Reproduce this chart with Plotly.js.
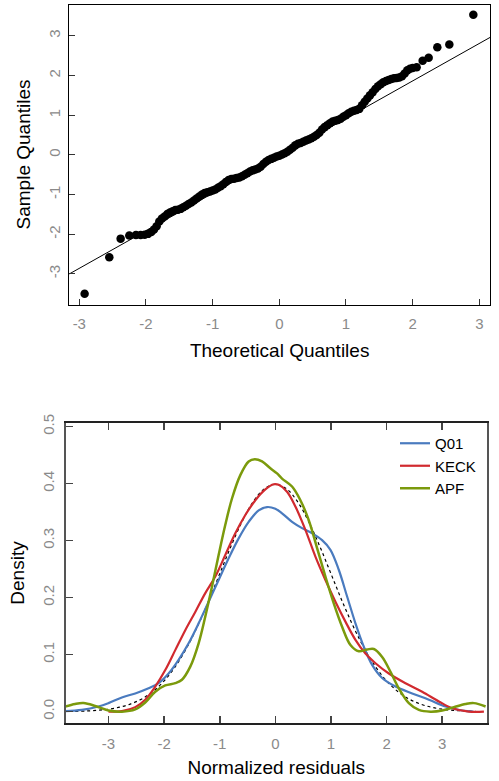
<!DOCTYPE html>
<html><head><meta charset="utf-8">
<script src="https://cdn.plot.ly/plotly-3.0.1.min.js"></script>
<style>html,body{margin:0;padding:0;background:#fff;}#chart{width:499px;height:781px;}</style>
</head><body><div id="chart"></div>
<script>
// ---- Q-Q plot data ----
const qqTheoretical = [-2.92,-2.55,-2.38,-2.25,-2.15,-2.08,-2.02,-1.97,-1.92,-1.88,-1.84,-1.80,-1.76,-1.72,-1.68,-1.64,-1.60,-1.56,-1.52,-1.48,-1.44,-1.40,-1.36,-1.32,-1.28,-1.24,-1.20,-1.16,-1.12,-1.08,-1.04,-1.00,-0.96,-0.92,-0.88,-0.84,-0.80,-0.76,-0.72,-0.68,-0.64,-0.60,-0.56,-0.52,-0.48,-0.44,-0.40,-0.36,-0.32,-0.28,-0.24,-0.20,-0.16,-0.12,-0.08,-0.04,0.00,0.04,0.08,0.12,0.16,0.20,0.24,0.28,0.32,0.36,0.40,0.44,0.48,0.52,0.56,0.60,0.64,0.68,0.72,0.76,0.80,0.84,0.88,0.92,0.96,1.00,1.04,1.08,1.12,1.16,1.20,1.24,1.28,1.32,1.36,1.40,1.44,1.48,1.52,1.56,1.60,1.64,1.68,1.72,1.76,1.80,1.84,1.88,1.92,1.96,2.00,2.06,2.15,2.24,2.37,2.55,2.91];
const qqSample = [-3.50,-2.58,-2.11,-2.03,-2.02,-2.02,-2.01,-1.99,-1.94,-1.88,-1.80,-1.68,-1.60,-1.55,-1.49,-1.45,-1.42,-1.39,-1.38,-1.36,-1.32,-1.28,-1.24,-1.20,-1.15,-1.10,-1.05,-1.00,-0.96,-0.94,-0.92,-0.90,-0.87,-0.83,-0.79,-0.74,-0.68,-0.63,-0.61,-0.60,-0.58,-0.57,-0.54,-0.50,-0.46,-0.42,-0.39,-0.37,-0.34,-0.30,-0.23,-0.17,-0.13,-0.10,-0.07,-0.04,-0.02,0.01,0.04,0.08,0.13,0.18,0.24,0.28,0.30,0.33,0.36,0.39,0.42,0.46,0.50,0.56,0.64,0.70,0.75,0.80,0.84,0.86,0.88,0.91,0.96,1.00,1.05,1.09,1.11,1.13,1.16,1.25,1.34,1.42,1.50,1.58,1.66,1.73,1.78,1.83,1.86,1.89,1.91,1.93,1.94,1.95,1.98,2.05,2.13,2.17,2.19,2.21,2.37,2.45,2.71,2.78,3.53];
const qqLineX = [-3.15, 3.16];
const qqLineY = [-3.00, 2.96];
const qqTicks = [-3,-2,-1,0,1,2,3];
const qqTickText = ['-3','-2','-1','0','1','2','3'];

// ---- Density data ----
const q01X = [-3.78,-3.48,-3.18,-3.00,-2.76,-2.52,-2.28,-2.10,-1.92,-1.74,-1.56,-1.38,-1.20,-1.02,-0.84,-0.66,-0.48,-0.30,-0.15,0.00,0.12,0.30,0.48,0.66,0.84,0.99,1.14,1.29,1.44,1.59,1.74,1.92,2.16,2.46,2.76,3.06,3.36,3.56];
const q01Y = [0.001,0.003,0.009,0.015,0.025,0.032,0.041,0.050,0.067,0.091,0.120,0.155,0.193,0.231,0.269,0.304,0.333,0.353,0.359,0.356,0.348,0.333,0.322,0.313,0.301,0.284,0.249,0.202,0.155,0.114,0.082,0.059,0.044,0.032,0.021,0.009,0.002,0.000];
const keckX = [-3.00,-2.76,-2.52,-2.34,-2.16,-1.98,-1.80,-1.62,-1.44,-1.26,-1.08,-0.90,-0.72,-0.54,-0.36,-0.18,-0.03,0.06,0.21,0.36,0.54,0.72,0.90,1.08,1.26,1.44,1.62,1.80,2.04,2.34,2.64,2.94,3.18,3.48,3.75];
const keckY = [0.000,0.001,0.008,0.021,0.044,0.073,0.108,0.143,0.175,0.208,0.237,0.275,0.313,0.345,0.371,0.390,0.399,0.398,0.386,0.360,0.319,0.272,0.231,0.193,0.158,0.126,0.102,0.085,0.067,0.050,0.035,0.018,0.006,0.000,0.000];
const apfX = [-3.78,-3.60,-3.45,-3.24,-3.00,-2.76,-2.52,-2.34,-2.16,-1.98,-1.80,-1.68,-1.53,-1.38,-1.26,-1.14,-1.02,-0.90,-0.78,-0.63,-0.48,-0.37,-0.24,-0.09,0.03,0.12,0.30,0.45,0.60,0.75,0.90,1.05,1.20,1.35,1.50,1.65,1.77,1.92,2.07,2.22,2.40,2.58,2.79,3.00,3.21,3.42,3.57,3.78];
const apfY = [0.009,0.0135,0.015,0.010,0.002,0.000,0.004,0.016,0.035,0.046,0.050,0.056,0.079,0.120,0.167,0.219,0.275,0.328,0.374,0.415,0.439,0.443,0.439,0.427,0.418,0.409,0.395,0.371,0.336,0.287,0.237,0.190,0.149,0.117,0.106,0.109,0.110,0.096,0.070,0.041,0.015,0.003,0.000,0.002,0.008,0.0135,0.015,0.009];
const normX = [-3.6,-3.4,-3.2,-3.0,-2.8,-2.6,-2.4,-2.2,-2.0,-1.8,-1.6,-1.4,-1.2,-1.0,-0.8,-0.6,-0.4,-0.2,0.0,0.2,0.4,0.6,0.8,1.0,1.2,1.4,1.6,1.8,2.0,2.2,2.4,2.6,2.8,3.0,3.2,3.4,3.6];
const normY = [0.0006,0.0012,0.0024,0.0044,0.0079,0.0136,0.0224,0.0355,0.0540,0.0790,0.1109,0.1497,0.1942,0.2420,0.2897,0.3332,0.3683,0.3910,0.3989,0.3910,0.3683,0.3332,0.2897,0.2420,0.1942,0.1497,0.1109,0.0790,0.0540,0.0355,0.0224,0.0136,0.0079,0.0044,0.0024,0.0012,0.0006];
const densXTicks = [-3,-2,-1,0,1,2,3];
const densXTickText = ['-3','-2','-1','0','1','2','3'];
const densYTicks = [0,0.1,0.2,0.3,0.4,0.5];
const densYTickText = ['0.0','0.1','0.2','0.3','0.4','0.5'];
const seriesNames = ['Q01','KECK','APF'];
const seriesColors = ['#4a7bbf','#d12a2f','#7b9a0c'];

const FONT = 'Liberation Sans, Arial, Helvetica, sans-serif';
const tickFont = {family: FONT, size: 15, color: '#8a8a8a'};
const titleFont = {family: FONT, size: 19, color: '#000'};

const traces = [
  {x: qqTheoretical, y: qqSample, type: 'scatter', mode: 'markers', xaxis: 'x', yaxis: 'y',
   marker: {color: '#000', size: 8.5}, showlegend: false, cliponaxis: false},
  {x: qqLineX, y: qqLineY, type: 'scatter', mode: 'lines', xaxis: 'x', yaxis: 'y',
   line: {color: '#000', width: 1}, showlegend: false},
  {x: normX, y: normY, type: 'scatter', mode: 'lines', xaxis: 'x2', yaxis: 'y2',
   line: {color: '#000', width: 1.2, dash: 'dot', shape: 'spline'}, showlegend: false},
  {x: q01X, y: q01Y, name: seriesNames[0], type: 'scatter', mode: 'lines', xaxis: 'x2', yaxis: 'y2',
   line: {color: seriesColors[0], width: 2.2, shape: 'spline', smoothing: 1}},
  {x: keckX, y: keckY, name: seriesNames[1], type: 'scatter', mode: 'lines', xaxis: 'x2', yaxis: 'y2',
   line: {color: seriesColors[1], width: 2.2, shape: 'spline', smoothing: 1}},
  {x: apfX, y: apfY, name: seriesNames[2], type: 'scatter', mode: 'lines', xaxis: 'x2', yaxis: 'y2',
   line: {color: seriesColors[2], width: 2.5, shape: 'spline', smoothing: 1}}
];

const W = 499, H = 781;
const layout = {
  width: W, height: H,
  margin: {l: 0, r: 0, t: 0, b: 0},
  paper_bgcolor: '#fff', plot_bgcolor: '#fff',
  font: {family: FONT},
  showlegend: true,
  legend: {x: 395/W, xanchor: 'left', y: 1 - 427/H, yanchor: 'top',
           font: {family: FONT, size: 15, color: '#000'}, bgcolor: 'rgba(255,255,255,0)',
           tracegroupgap: 0, itemwidth: 30},
  xaxis: {domain: [69.3/W, 490/W], anchor: 'y', range: [-3.15, 3.16],
          tickvals: qqTicks, ticktext: qqTickText, ticks: 'inside', ticklen: 6, tickcolor: '#333', tickwidth: 1,
          showline: true, linecolor: '#000', linewidth: 1, mirror: true,
          showgrid: false, zeroline: false, tickfont: tickFont, ticklabelstandoff: 5,
          title: {text: 'Theoretical Quantiles', font: titleFont, standoff: 13}, automargin: false},
  yaxis: {domain: [1 - 304.5/H, 1 - 4.5/H], anchor: 'x', range: [-3.77, 3.79],
          tickvals: qqTicks, ticktext: qqTickText, ticks: 'inside', ticklen: 6, tickcolor: '#333', tickwidth: 1, tickangle: -90,
          showline: true, linecolor: '#000', linewidth: 1, mirror: true,
          showgrid: false, zeroline: false, tickfont: tickFont, ticklabelstandoff: 2,
          title: {text: 'Sample Quantiles', font: titleFont, standoff: 10}, automargin: false},
  xaxis2: {domain: [65.7/W, 486.7/W], anchor: 'y2', range: [-3.77, 3.80],
          tickvals: densXTicks, ticktext: densXTickText, ticks: 'inside', ticklen: 7, tickcolor: '#444', tickwidth: 1.5,
          showline: true, linecolor: '#222', linewidth: 1.6, mirror: 'ticks',
          showgrid: false, zeroline: false, tickfont: tickFont, ticklabelstandoff: 6,
          title: {text: 'Normalized residuals', font: titleFont, standoff: 10}, automargin: false},
  yaxis2: {domain: [1 - 723.3/H, 1 - 422.7/H], anchor: 'x2', range: [-0.0204, 0.507],
          tickvals: densYTicks, ticktext: densYTickText, ticks: 'inside', ticklen: 7, tickcolor: '#444', tickwidth: 1.5,
          tickangle: -90, showline: true, linecolor: '#555', linewidth: 2, mirror: true,
          showgrid: false, zeroline: false, tickfont: tickFont, ticklabelstandoff: 4,
          title: {text: 'Density', font: titleFont, standoff: 10}, automargin: false}
};

Plotly.newPlot('chart', traces, layout, {staticPlot: true, displayModeBar: false});
</script>
</body></html>
